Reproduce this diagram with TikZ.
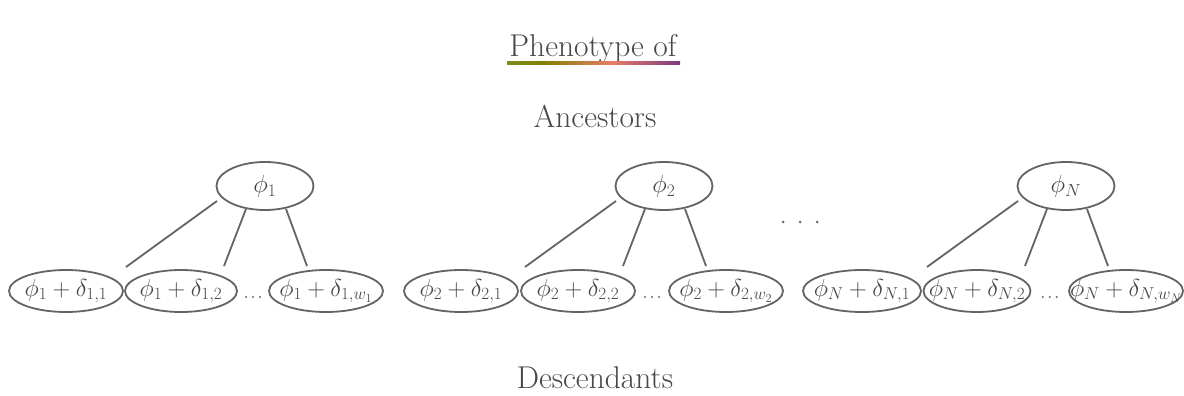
\RequirePackage{fix-cm}
\documentclass[tikz,border=0pt]{standalone}
\usepackage{fontspec}
\usetikzlibrary{shapes.geometric,calc}
\definecolor{ink}{RGB}{72,72,72}
\definecolor{edgecol}{RGB}{100,100,100}
\pgfdeclarehorizontalshading{rainbowline}{100bp}{color(0bp)=(green!40!black!55); color(35bp)=(olive!55!gray); color(55bp)=(red!45!brown!70); color(75bp)=(violet!55!gray); color(100bp)=(blue!45!gray)}
\newcommand{\zw}[1]{\makebox[0pt]{$#1$}}
\tikzset{
  top/.style={ellipse, draw=edgecol, line width=1.8pt, minimum width=97pt, minimum height=48pt, inner sep=0pt, text=ink, font=\fontsize{25}{28}\selectfont},
  bot/.style={ellipse, draw=edgecol, line width=1.8pt, minimum width=114pt, minimum height=42pt, inner sep=0pt, text=ink, font=\fontsize{24.5}{28}\selectfont},
  edge/.style={draw=edgecol, line width=1.8pt},
  label/.style={text=ink, font=\fontsize{31.5}{35}\selectfont, anchor=base, inner sep=0pt},
  dot/.style={fill=ink!80, draw=none}
}
\begin{document}
\begin{tikzpicture}[x=1pt,y=-1pt]
\useasboundingbox (0,0) rectangle (1184,396);
\fill[white] (0,0) rectangle (1184,396);
% labels
\node[label] (phen) at (593,57) {Phenotype of};
\shade[shading=rainbowline] (507,62) rectangle (680,64.2);
\node[label] (anc) at (595,127) {Ancestors};
\node[label] (desc) at (595,388) {Descendants};
% top nodes
\node[top] (t1) at (265,186) {\zw{\phi_1}};
\node[top] (t2) at (664,186) {\zw{\phi_2}};
\node[top] (tN) at (1066,186) {\zw{\phi_N}};
% bottom nodes
\node[bot] (b11) at (66,291) {\zw{\phi_1+\delta_{1,1}}};
\node[bot, minimum width=112pt] (b12) at (181,291) {\zw{\phi_1+\delta_{1,2}}};
\node[bot] (b13) at (326,291) {\zw{\phi_1+\delta_{1,w_1}}};
\node[bot] (b21) at (461,291) {\zw{\phi_2+\delta_{2,1}}};
\node[bot] (b22) at (578,291) {\zw{\phi_2+\delta_{2,2}}};
\node[bot] (b23) at (726,291) {\zw{\phi_2+\delta_{2,w_2}}};
\node[bot, minimum width=118pt] (bN1) at (862,291) {\zw{\phi_N+\delta_{N,1}}};
\node[bot, minimum width=107pt] (bN2) at (977,291) {\zw{\phi_N+\delta_{N,2}}};
\node[bot] (bN3) at (1126,291) {\zw{\phi_N+\delta_{N,w_N}}};
% connectors
\foreach \t in {t1,t2,tN}{
  \coordinate (\t a) at ($(\t)+(-48,15)$);
  \coordinate (\t A) at ($(\t)+(-139,81)$);
  \coordinate (\t b) at ($(\t)+(-19,23)$);
  \coordinate (\t B) at ($(\t)+(-41,80)$);
  \coordinate (\t c) at ($(\t)+(21,23)$);
  \coordinate (\t C) at ($(\t)+(42,80)$);
  \draw[edge] (\t a) -- (\t A);
  \draw[edge] (\t b) -- (\t B);
  \draw[edge] (\t c) -- (\t C);
}
% small dots between 2nd and 3rd descendants
\foreach \p/\q in {b12/b13,b22/b23,bN2/bN3}{
  \coordinate (\p m) at ($(\p.east)!0.5!(\q.west)$);
  \foreach \d in {-7,0,7}{
    \fill[dot] ($(\p m)+(\d,6)$) circle (1.1pt);
  }
}
% dots between groups
\foreach \x in {783,800,817}{
  \fill[dot] (\x,222) circle (1.5pt);
}
\end{tikzpicture}
\end{document}
